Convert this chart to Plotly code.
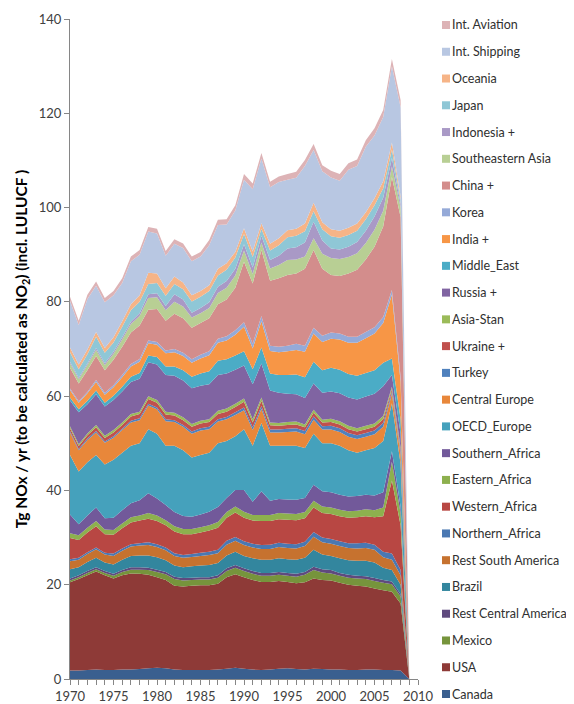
import plotly.graph_objects as go

years = list(range(1970, 2010))

names = ["Canada", "USA", "Mexico", "Rest Central America", "Brazil", "Rest South America",
         "Northern_Africa", "Western_Africa", "Eastern_Africa", "Southern_Africa", "OECD_Europe",
         "Central Europe", "Turkey", "Ukraine +", "Asia-Stan", "Russia +", "Middle_East", "India +",
         "Korea", "China +", "Southeastern Asia", "Indonesia +", "Japan", "Oceania",
         "Int. Shipping", "Int. Aviation"]

canada = [1.8,1.8,1.9,2.0,1.9,1.9,2.0,2.0,2.1,2.3, 2.4,2.3,2.0,1.9,1.9,1.9,1.9,2.0,2.2,2.4,
          2.2,2.0,1.9,2.0,2.2,2.3,2.1,2.0,2.2,2.1, 2.0,2.0,1.9,1.9,2.0,2.0,1.9,1.9,1.8,0]
usa = [18.7,19.4,20.1,20.8,20.1,19.4,20.0,20.4,20.2,19.8, 19.2,18.7,17.8,17.7,17.9,18.0,18.0,18.2,19.4,19.8,
       19.4,19.0,18.7,18.6,18.6,18.3,18.2,18.5,19.1,18.9, 18.9,18.4,18.1,17.9,17.6,17.2,16.9,16.6,14.2,0]
mexico = [0.4,0.4,0.5,0.5,0.5,0.6,0.7,0.8,0.9,1.0, 1.1,1.2,1.4,1.3,1.2,1.2,1.2,1.3,1.3,1.4,
          1.3,1.3,1.3,1.3,1.3,1.3,1.4,1.6,1.8,1.6, 1.5,1.5,1.5,1.5,1.6,1.6,1.6,1.6,1.5,0]
rest_central_america = [0.4,0.4,0.4,0.4,0.4,0.4,0.4,0.5,0.5,0.5, 0.5,0.5,0.5,0.5,0.5,0.5,0.5,0.5,0.6,0.6,
                        0.6,0.6,0.6,0.6,0.6,0.6,0.6,0.6,0.7,0.7, 0.7,0.6,0.6,0.6,0.6,0.6,0.6,0.6,0.5,0]
brazil = [2.0,1.7,1.9,2.0,1.8,2.0,2.2,2.4,2.5,2.6, 2.6,2.5,2.4,2.3,2.4,2.5,2.6,2.6,2.7,2.8,
          2.6,2.7,2.8,2.8,2.9,2.9,3.0,3.0,3.6,3.1, 3.0,3.1,3.1,3.2,3.3,3.3,2.6,2.4,2.0,0]
rest_south_america = [1.7,1.6,1.7,1.8,1.7,1.8,1.9,2.0,2.1,2.2, 2.2,2.1,2.0,2.0,2.0,2.0,2.1,2.1,2.3,2.3,
                      2.3,2.3,2.3,2.3,2.4,2.4,2.4,2.5,2.8,2.6, 2.6,2.6,2.6,2.6,2.7,2.7,2.2,2.2,2.0,0]
northern_africa = [0.4,0.4,0.4,0.4,0.4,0.5,0.5,0.5,0.5,0.6, 0.6,0.6,0.6,0.6,0.6,0.7,0.7,0.7,0.8,0.8,
                   0.8,0.8,0.8,0.9,0.9,0.9,0.9,0.9,1.0,1.0, 1.0,1.0,1.0,1.1,1.1,1.1,1.2,1.3,1.1,0]
western_africa = [4.5,3.8,4.2,4.5,3.9,4.0,4.3,4.6,4.8,5.0, 4.9,4.7,4.6,4.4,4.2,4.3,4.5,4.7,4.9,5.2,
                  5.0,4.9,5.1,5.0,5.0,5.1,5.1,5.0,5.2,5.2, 5.3,5.3,5.4,5.5,5.6,5.8,7.5,15.5,9.5,0]
eastern_africa = [1.0,1.0,1.0,1.1,1.0,1.0,1.0,1.1,1.1,1.2, 1.2,1.1,1.1,1.1,1.1,1.1,1.1,1.2,1.2,1.3,
                  1.3,1.2,1.3,1.3,1.3,1.3,1.3,1.3,1.4,1.4, 1.4,1.4,1.4,1.4,1.5,1.5,1.9,4.0,2.5,0]
southern_africa = [4.0,2.3,2.6,2.9,2.4,2.6,2.8,3.0,3.2,4.2, 3.6,3.2,3.0,2.8,2.6,2.7,2.9,3.2,3.0,3.5,
                   4.6,2.8,5.0,3.0,3.0,3.0,3.0,3.0,3.4,3.2, 3.2,3.2,3.1,3.1,3.1,3.1,3.2,2.2,1.5,0]
oecd_europe = [12.6,11.2,11.3,11.1,11.4,12.3,12.2,12.2,12.1,13.6, 13.7,12.6,14.1,13.9,12.6,12.6,12.5,13.5,12.1,11.4,
               12.9,11.9,14.5,11.7,11.3,11.4,11.5,10.6,10.8,10.2, 10.4,10.4,9.8,9.2,9.4,10.1,10.9,10.2,9.0,0]
central_europe = [4.8,4.5,4.7,4.8,4.6,4.7,4.8,4.9,4.9,5.0, 5.2,5.2,5.0,5.0,5.0,5.2,5.0,4.6,4.6,4.5,
                  4.0,3.3,3.0,2.8,2.8,2.9,3.0,2.9,3.0,2.9, 2.9,2.9,2.9,2.9,2.9,2.9,3.0,2.0,2.0,0]
turkey = [0.3,0.3,0.3,0.3,0.3,0.3,0.3,0.4,0.4,0.4, 0.4,0.4,0.4,0.4,0.5,0.5,0.5,0.5,0.5,0.6,
          0.6,0.6,0.6,0.6,0.6,0.7,0.7,0.7,0.7,0.7, 0.8,0.8,0.8,0.8,0.8,0.8,0.8,0.5,0.5,0]
ukraine = [0.6,0.6,0.7,0.8,0.7,0.8,0.8,0.9,0.9,1.0, 1.0,1.0,1.0,1.0,1.0,1.0,1.0,1.1,1.1,1.1,
           1.2,1.0,1.1,0.9,0.8,0.8,0.8,0.8,0.8,0.8, 0.8,0.8,0.8,0.8,0.8,0.8,0.8,0.5,0.5,0]
asia_stan = [0.4,0.4,0.4,0.5,0.5,0.5,0.5,0.5,0.5,0.6, 0.6,0.6,0.6,0.6,0.6,0.6,0.6,0.7,0.7,0.7,
             0.7,0.7,0.7,0.6,0.6,0.6,0.6,0.6,0.6,0.6, 0.7,0.7,0.7,0.7,0.7,0.7,0.7,0.5,0.5,0]
russia = [5.5,6.8,6.2,6.5,6.2,6.4,6.6,6.8,7.0,7.2, 7.5,7.8,7.8,7.8,7.6,7.4,7.4,7.6,7.4,7.2,
          7.0,7.4,7.2,6.8,6.4,6.0,5.8,5.6,5.6,5.7, 5.8,5.9,6.0,6.1,6.2,6.3,6.3,2.5,3.0,0]
middle_east = [0.6,0.6,0.7,0.8,0.8,0.9,1.0,1.1,1.2,1.4, 1.6,1.8,2.0,2.2,2.4,2.6,2.8,3.0,3.0,3.0,
               3.0,3.2,3.4,3.6,3.8,4.0,4.2,4.4,4.6,4.8, 5.0,5.0,5.0,5.0,5.0,5.0,5.0,3.5,3.0,0]
india = [1.6,1.4,1.6,1.8,1.7,1.8,2.0,2.2,2.4,2.6, 2.6,2.8,3.0,3.0,3.0,3.2,3.4,3.8,4.0,4.4,
         5.2,4.4,5.6,4.8,4.8,5.0,5.2,5.4,6.0,6.0, 6.2,6.4,6.6,7.0,7.4,7.8,8.4,13.5,8.0,0]
korea = [0.3,0.3,0.3,0.4,0.4,0.4,0.5,0.5,0.6,0.6, 0.6,0.6,0.7,0.7,0.7,0.8,0.8,0.9,0.9,1.0,
         1.0,1.0,1.1,1.1,1.2,1.2,1.3,1.3,1.2,1.3, 1.3,1.3,1.3,1.3,1.3,1.3,1.3,1.0,1.0,0]
china = [4.4,3.8,4.6,5.1,4.8,5.4,6.0,6.7,7.1,6.5, 7.0,6.3,7.5,7.3,6.7,6.7,7.0,7.3,7.8,9.0,
         12.8,12.8,14.0,13.8,14.5,15.0,14.9,16.3,16.5,14.2, 12.2,12.2,13.4,14.2,15.4,17.1,19.2,24.0,33.9,0]
southeastern_asia = [1.0,0.9,1.1,1.3,1.1,1.3,1.5,1.8,2.0,2.5, 2.5,2.2,2.5,2.5,2.2,2.1,2.2,2.4,2.5,2.6,
                     2.4,2.0,1.6,2.6,2.8,3.2,3.0,2.6,2.5,3.2, 3.6,3.6,3.5,3.5,3.5,3.6,3.3,2.2,2.0,0]
indonesia = [0.3,0.3,0.3,0.4,0.4,0.4,0.5,0.5,0.6,0.8, 0.8,0.9,1.6,1.5,1.0,1.1,1.2,1.3,1.4,1.4,
             1.3,1.4,1.4,1.8,2.0,2.4,2.6,3.0,3.5,2.8, 2.0,2.0,2.2,2.4,2.6,2.8,2.8,1.8,0.8,0]
japan = [2.0,1.8,2.0,2.4,2.2,2.0,2.2,2.4,2.4,2.2, 2.2,2.2,2.2,2.2,2.4,2.4,2.4,2.4,2.4,2.4,
         2.2,2.2,1.5,2.0,2.2,2.4,2.4,2.4,2.2,2.4, 2.6,2.5,2.5,2.4,2.4,2.4,2.0,1.8,0.8,0]
oceania = [1.0,1.0,1.0,1.0,1.0,1.1,1.2,1.3,1.4,2.4, 2.0,1.6,1.6,1.4,1.3,1.2,1.2,1.4,1.4,1.2,
           1.2,1.2,1.2,1.4,1.5,1.5,1.5,1.6,1.8,1.5, 1.5,1.5,1.5,1.5,1.5,1.5,1.5,1.5,0.8,0]
int_shipping = [9.9,8.4,10.7,9.8,9.7,8.9,8.1,9.1,8.6,8.7, 8.5,6.9,6.9,7.3,7.2,7.3,8.5,9.3,8.2,8.8,
                10.3,13.2,13.7,12.0,11.9,10.7,10.8,12.2,11.2,10.8, 11.0,10.6,12.3,12.2,13.9,13.3,13.6,16.2,18.9,0]
int_aviation = [0.9,0.9,0.9,0.9,0.9,0.9,1.0,1.0,1.0,1.0, 1.0,1.0,1.0,1.0,1.0,1.0,1.1,1.1,1.1,1.1,
                1.2,1.2,1.2,1.2,1.2,1.2,1.3,1.3,1.3,1.3, 1.4,1.4,1.4,1.4,1.4,1.5,1.5,1.5,1.5,0]

series = [canada, usa, mexico, rest_central_america, brazil, rest_south_america,
          northern_africa, western_africa, eastern_africa, southern_africa, oecd_europe,
          central_europe, turkey, ukraine, asia_stan, russia, middle_east, india,
          korea, china, southeastern_asia, indonesia, japan, oceania, int_shipping, int_aviation]

colors = ["#3A5F8F", "#8E3A37", "#76943C", "#5F4A7E", "#33869E", "#C6722F",
          "#4A78B2", "#B84743", "#8DB04E", "#72599A", "#45A1BC", "#E8873A",
          "#4F81BD", "#C0504D", "#9BBB59", "#8064A2", "#4BACC6", "#F79646",
          "#95AAD8", "#D38D8C", "#B8CF94", "#A999C6", "#8FC7D6", "#F6B487",
          "#B8C7E2", "#DDB3B6"]

fig = go.Figure()
for name, vals, col in zip(names, series, colors):
    fig.add_trace(go.Scatter(x=years, y=vals, mode="none", stackgroup="one",
                             fillcolor=col, line=dict(width=0), name=name,
                             showlegend=False, hoverinfo="skip"))

# the page body adds an 8px offset, so the figure is 8px smaller than the window
W, H = 566, 696
PL, PR, PT, PB = 62, 410, 11, 671          # plot area in figure pixels
pw, ph = PR - PL, PB - PT
font = "Lato, 'Open Sans', sans-serif"

# legend (top: Int. Aviation ... bottom: Canada), drawn as text + colour keys
annotations = []
shapes = []
step = 26.76
for i, (name, col) in enumerate(zip(names[::-1], colors[::-1])):
    cy = 17 + i * step                      # figure-pixel centre of the entry
    yp = (PB - cy) / ph
    annotations.append(dict(xref="paper", yref="paper", x=(442 - PL) / pw, y=yp,
                            xanchor="left", yanchor="middle", showarrow=False, text=name,
                            font=dict(family=font, size=12.5, color="#303030")))
    shapes.append(dict(type="rect", xref="paper", yref="paper",
                       x0=(434 - PL) / pw, x1=(442 - PL) / pw,
                       y0=yp - 4 / ph, y1=yp + 4 / ph,
                       fillcolor=col, line=dict(width=0), layer="above"))

fig.update_layout(
    width=W, height=H,
    margin=dict(l=PL, r=W - PR, t=PT, b=H - PB, autoexpand=False),
    paper_bgcolor="white", plot_bgcolor="white",
    font=dict(family=font, size=13, color="#404040"),
    showlegend=False,
    annotations=annotations, shapes=shapes,
    xaxis=dict(range=[1970, 2010], tickvals=list(range(1970, 2011, 5)),
               ticks="outside", ticklen=5, tickcolor="#868686",
               showline=True, linecolor="#868686", linewidth=1,
               showgrid=False, zeroline=False, automargin=False,
               minor=dict(dtick=1, ticks="outside", ticklen=5, tickcolor="#868686"),
               tickfont=dict(size=13, color="#404040")),
    yaxis=dict(range=[0, 140], dtick=20, ticks="outside", ticklen=5, tickcolor="#868686",
               showline=True, linecolor="#868686", linewidth=1,
               showgrid=False, zeroline=False, automargin=False,
               tickfont=dict(size=13, color="#404040"),
               title=dict(text="<b>Tg NOx / yr (to be calculated as NO<sub>2</sub>) (incl. LULUCF )</b>",
                          font=dict(size=15.5, color="#000000"), standoff=7)),
)

fig.write_html("out.html")
